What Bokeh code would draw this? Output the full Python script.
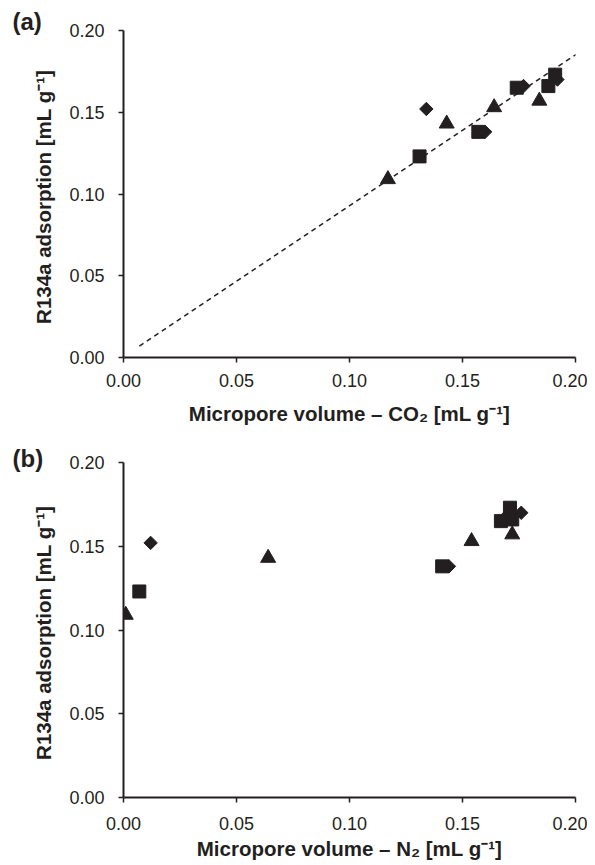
import numpy as np
from bokeh.plotting import figure
from bokeh.layouts import column
from bokeh.models import Range1d, FixedTicker, NumeralTickFormatter
from bokeh.embed import file_html
from bokeh.resources import INLINE

# ---- data ----
tri_y = [0.109, 0.143, 0.153, 0.157]
tri_co2 = [0.117, 0.143, 0.164, 0.184]
tri_n2 = [0.001, 0.064, 0.154, 0.172]

sq_y = [0.123, 0.138, 0.165, 0.166, 0.173]
sq_co2 = [0.131, 0.157, 0.174, 0.188, 0.191]
sq_n2 = [0.007, 0.141, 0.167, 0.172, 0.171]

dia_y = [0.152, 0.138, 0.166, 0.170]
dia_co2 = [0.134, 0.160, 0.177, 0.192]
dia_n2 = [0.012, 0.144, 0.168, 0.176]

fit_x = [0.007, 0.201]
fit_y = [0.007, 0.186]

ticks = [0.0, 0.05, 0.10, 0.15, 0.20]

FONT = "Liberation Sans"
INK = "#231f20"


def make_fig(height, border_top, border_bottom, xlabel, xs_tri, xs_sq, xs_dia, tag,
             tick_standoff, title_standoff, tag_standoff):
    p = figure(width=587, height=height,
               x_range=Range1d(0, 0.2), y_range=Range1d(0, 0.2),
               output_backend="svg", toolbar_location=None,
               min_border_left=123, min_border_right=12,
               min_border_top=border_top, min_border_bottom=border_bottom,
               title=tag, title_location="above")
    p.outline_line_color = None
    p.grid.visible = False
    p.background_fill_color = "white"
    p.border_fill_color = "white"
    p.title.align = "left"
    p.title.offset = -111
    p.title.standoff = tag_standoff
    p.title.text_font = FONT
    p.title.text_font_style = "bold"
    p.title.text_font_size = "24px"
    p.title.text_color = INK
    for ax in (p.xaxis[0], p.yaxis[0]):
        ax.ticker = FixedTicker(ticks=ticks)
        ax.formatter = NumeralTickFormatter(format="0.00")
        ax.axis_line_width = 2
        ax.axis_line_color = INK
        ax.major_tick_line_color = INK
        ax.major_tick_line_width = 1.5
        ax.major_tick_out = 5
        ax.major_tick_in = 0
        ax.minor_tick_line_color = None
        ax.major_label_text_font = FONT
        ax.major_label_text_font_size = "18px"
        ax.major_label_text_color = INK
        ax.axis_label_text_font = FONT
        ax.axis_label_text_font_style = "bold"
        ax.axis_label_text_font_size = "20.5px"
        ax.axis_label_text_color = INK
    p.xaxis.axis_label = xlabel
    p.xaxis.major_label_standoff = tick_standoff
    p.xaxis.axis_label_standoff = title_standoff
    p.yaxis.axis_label = "R134a adsorption  [mL g\u207b\u00b9]"
    p.yaxis.major_label_standoff = 14
    p.yaxis.axis_label_standoff = 11

    p.scatter(xs_tri, tri_y, marker="triangle", size=15, color=INK)
    p.scatter(xs_sq, sq_y, marker="square", size=13, color=INK)
    p.scatter(xs_dia, dia_y, marker="square", angle=np.pi / 4, size=9.5, color=INK)
    return p


p1 = make_fig(440, 30, 83, "Micropore volume \u2013 CO\u2082 [mL g\u207b\u00b9]",
              tri_co2, sq_co2, dia_co2, "(a)", 11, 12, -8)
p1.line(fit_x, fit_y, line_dash="5 4", line_width=1.5, color=INK)

p2 = make_fig(423, 22, 66, "Micropore volume \u2013 N\u2082 [mL g\u207b\u00b9]",
              tri_n2, sq_n2, dia_n2, "(b)", 14, 4, -18)

layout = column(p1, p2, spacing=0)
open("out.html", "w").write(file_html(layout, INLINE))
